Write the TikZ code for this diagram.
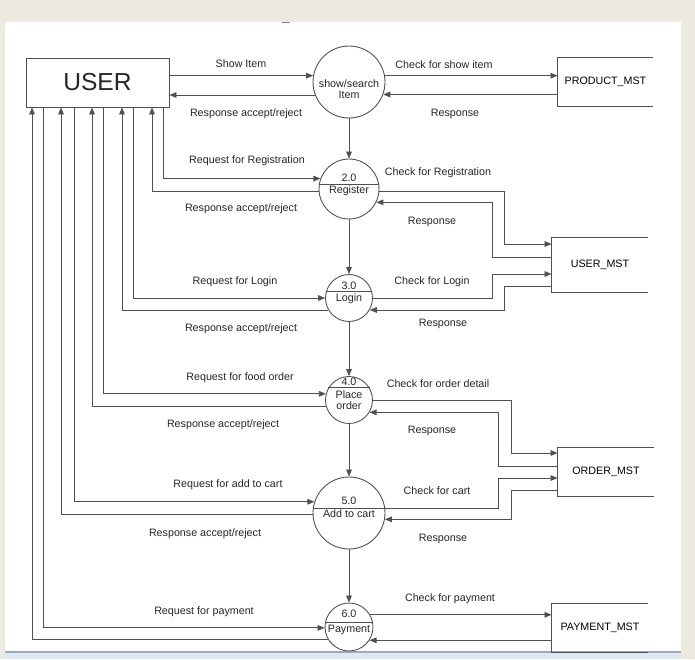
\documentclass[tikz,border=0pt]{standalone}
\usepackage{fontspec}
\setmainfont{Liberation Sans}
\usetikzlibrary{arrows.meta}
\definecolor{linec}{RGB}{80,80,80}
\definecolor{beige}{RGB}{236,233,222}
\definecolor{bandblue}{RGB}{221,232,246}
\definecolor{bandgray}{RGB}{160,168,178}
\begin{document}
\begin{tikzpicture}[x=0.02cm,y=-0.02cm,line width=0.5pt,
  font=\fontsize{6.1}{6.3}\selectfont,
  proc/.style={circle,draw=linec,inner sep=0pt},
  store/.style={minimum width=1.92cm,minimum height=0.96cm,inner sep=0pt},
  flow/.style={draw=linec,-{Triangle[length=4pt,width=3.2pt]}},
  wire/.style={draw=linec},
  lbl/.style={inner sep=0pt,text=black!85,align=center}]
  \useasboundingbox (0,0) rectangle (695,659);
  % page
  \fill[beige] (0,0) rectangle (695,659);
  \fill[white] (5,22) rectangle (681,651);
  \fill[bandblue] (5,653) rectangle (681,659);
  \draw[bandgray,line width=1.2pt] (5,652) -- (681,652);
  \draw[gray,line width=1pt] (282,22.5) -- (290,22.5);
  % entity and stores
  \node[draw=linec,minimum width=2.86cm,minimum height=0.98cm,text=black!85,
        font=\fontsize{14}{16}\selectfont] (user) at (97.5,82.5) {USER};
  \node[store,minimum width=1.9cm] (product) at (605.5,82) {PRODUCT\_MST};
  \node[store,minimum height=1.08cm] (usermst) at (600,265) {USER\_MST};
  \node[store] (order) at (606,472) {ORDER\_MST};
  \node[store] (payment) at (600,628) {PAYMENT\_MST};
  \draw[wire] (product.north east) -| (product.south west) -- (product.south east);
  \draw[wire] (usermst.north east) -| (usermst.south west) -- (usermst.south east);
  \draw[wire] (order.north east) -| (order.south west) -- (order.south east);
  \draw[wire] (payment.north east) -| (payment.south west) -- (payment.south east);
  % processes
  \node[proc,minimum size=1.44cm] (p1) at (349,82) {};
  \node[proc,minimum size=1.2cm] (p2) at (349,189) {};
  \node[proc,minimum size=0.94cm] (p3) at (349,298) {};
  \node[proc,minimum size=0.94cm] (p4) at (349,400) {};
  \node[proc,minimum size=1.44cm] (p5) at (349,513) {};
  \node[proc,minimum size=0.96cm] (p6) at (349,627) {};
  \draw[wire] (p2.172) -- (p2.8);
  \draw[wire] (p3.165) -- (p3.15);
  \draw[wire] (p4.149) -- (p4.31);
  \draw[wire] (p5.172) -- (p5.8);
  \draw[wire] (p6.170) -- (p6.10);
  \node[lbl] (p1t) at (349,89) {show/search\\Item};
  \node[lbl] (p2n) at (349,178) {2.0};
  \node[lbl] (p2t) at (349,191) {Register};
  \node[lbl] (p3n) at (349,286) {3.0};
  \node[lbl] (p3t) at (349,299) {Login};
  \node[lbl] (p4n) at (349,382) {4.0};
  \node[lbl] (p4t) at (349,400) {Place\\order};
  \node[lbl] (p5n) at (349,501) {5.0};
  \node[lbl] (p5t) at (349,514) {Add to cart};
  \node[lbl] (p6n) at (349,614) {6.0};
  \node[lbl] (p6t) at (349,630) {Payment};
  % show/search item
  \draw[flow] (user.east |- p1.170) -- (p1.170);
  \draw[flow] (p1.201) -- (user.east |- p1.201);
  \draw[flow] (p1.10) -- (product.west |- p1.10);
  \draw[flow] (product.west |- p1.-20) -- (p1.-20);
  % down the chain
  \draw[flow] (p1) -- (p2);
  \draw[flow] (p2) -- (p3);
  \draw[flow] (p3) -- (p4);
  \draw[flow] (p4) -- (p5);
  \draw[flow] (p5) -- (p6);
  % register
  \draw[flow] (163,0 |- user.south) |- (p2.160);
  \draw[flow] (p2.184) -| (152,0 |- user.south);
  \draw[flow] (p2.-4) -| (504,244) -- (usermst.west |- 0,244);
  \draw[flow] (usermst.west |- 0,257) -| (492,0 |- p2.-26) -- (p2.-26);
  % login
  \draw[flow] (133,0 |- user.south) |- (p3.180);
  \draw[flow] (p3.210) -| (122,0 |- user.south);
  \draw[flow] (p3.0) -| (492,274) -- (usermst.west |- 0,274);
  \draw[flow] (usermst.west |- 0,286) -| (504,0 |- p3.-30) -- (p3.-30);
  % place order
  \draw[flow] (103,0 |- user.south) |- (p4.165);
  \draw[flow] (p4.195) -| (92,0 |- user.south);
  \draw[flow] (p4.-2) -| (511,453) -- (order.west |- 0,453);
  \draw[flow] (order.west |- 0,466) -| (498,0 |- p4.-31) -- (p4.-31);
  % add to cart
  \draw[flow] (74,0 |- user.south) |- (p5.162);
  \draw[flow] (p5.182) -| (61,0 |- user.south);
  \draw[flow] (p5.8) -| (498,478) -- (order.west |- 0,478);
  \draw[flow] (order.west |- 0,490) -| (511,0 |- p5.-10) -- (p5.-10);
  % payment
  \draw[flow] (43,0 |- user.south) |- (p6.182);
  \draw[flow] (p6.210) -| (32,0 |- user.south);
  \draw[flow] (p6.30) -- (payment.west |- p6.30);
  \draw[flow] (payment.west |- p6.-33) -- (p6.-33);
  % flow labels
  \node[lbl] (lshow) at (241,64) {Show Item};
  \node[lbl] (lresp1) at (246,114) {Response accept/reject};
  \node[lbl] (lchkshow) at (444,65) {Check for show item};
  \node[lbl] (ldb1) at (455,114) {Response};
  \node[lbl] (lreg) at (247,161) {Request for Registration};
  \node[lbl] (lresp2) at (241,209) {Response accept/reject};
  \node[lbl] (lchkreg) at (438,173) {Check for Registration};
  \node[lbl] (ldb2) at (432,222) {Response};
  \node[lbl] (llogin) at (235,282) {Request for Login};
  \node[lbl] (lresp3) at (241,329) {Response accept/reject};
  \node[lbl] (lchklogin) at (432,282) {Check for Login};
  \node[lbl] (ldb3) at (443,324) {Response};
  \node[lbl] (lfood) at (240,378) {Request for food order};
  \node[lbl] (lresp4) at (223,425) {Response accept/reject};
  \node[lbl] (lchkorder) at (438,384) {Check for order detail};
  \node[lbl] (ldb4) at (432,431) {Response};
  \node[lbl] (lcart) at (228,485) {Request for add to cart};
  \node[lbl] (lresp5) at (205,534) {Response accept/reject};
  \node[lbl] (lchkcart) at (437,491) {Check for cart};
  \node[lbl] (ldb5) at (443,539) {Response};
  \node[lbl] (lpay) at (204,612) {Request for payment};
  \node[lbl] (lchkpay) at (450,599) {Check for payment};
\end{tikzpicture}
\end{document}
